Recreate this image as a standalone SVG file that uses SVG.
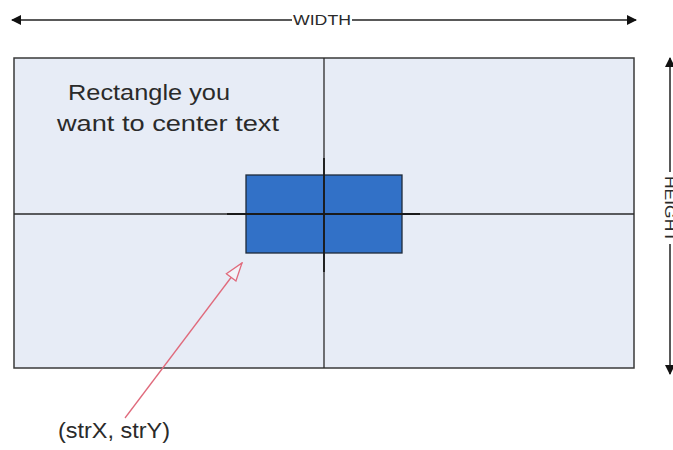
<svg xmlns="http://www.w3.org/2000/svg" width="673" height="450" viewBox="0 0 673 450">
  <style>
    .dim { stroke: #222; stroke-width: 1.5; fill: none; }
    .grid { stroke: #2a2a2a; stroke-width: 1.3; fill: none; }
    .lbl { font-family: "Liberation Sans", Arial, sans-serif; fill: #2a2a2a; }
  </style>
  <defs>
    <marker id="blk" viewBox="0 0 10 10" refX="9" refY="5" markerWidth="10" markerHeight="10" markerUnits="userSpaceOnUse" orient="auto-start-reverse">
      <path d="M0,0 L10,5 L0,10 Z" fill="#111"/>
    </marker>
    <marker id="open" viewBox="0 0 20 14" refX="19" refY="7" markerWidth="20" markerHeight="14" markerUnits="userSpaceOnUse" orient="auto">
      <path d="M1,1 L19,7 L1,13 Z" fill="#F2F3F8" stroke="#E06A7C" stroke-width="1.3"/>
    </marker>
  </defs>
  <rect width="673" height="450" fill="#ffffff"/>

  <g id="width-dimension">
    <line class="dim" x1="12" y1="20" x2="292" y2="20" marker-start="url(#blk)"/>
    <line class="dim" x1="352" y1="20" x2="636" y2="20" marker-end="url(#blk)"/>
    <text class="lbl" x="293" y="24.5" font-size="15" textLength="58" lengthAdjust="spacingAndGlyphs">WIDTH</text>
  </g>

  <g id="height-dimension">
    <line class="dim" x1="670" y1="58" x2="670" y2="172" marker-start="url(#blk)"/>
    <line class="dim" x1="670" y1="244" x2="670" y2="374" marker-end="url(#blk)"/>
    <text class="lbl" transform="translate(665,176) rotate(90)" x="0" y="0" font-size="15" textLength="66" lengthAdjust="spacingAndGlyphs">HEIGHT</text>
  </g>

  <g id="outer-rectangle">
    <rect x="14" y="58" width="620" height="310" fill="#E7ECF6" stroke="#3a3a3a" stroke-width="1.5"/>
    <text class="lbl" x="68" y="100" font-size="22" textLength="162" lengthAdjust="spacingAndGlyphs">Rectangle you</text>
    <text class="lbl" x="57" y="131" font-size="22" textLength="222" lengthAdjust="spacingAndGlyphs">want to center text</text>
  </g>

  <g id="inner-rectangle">
    <rect x="246" y="175" width="156" height="78" fill="#3271C7" stroke="#1e2a3a" stroke-width="1.3"/>
  </g>

  <g id="connectors">
    <line class="grid" x1="14" y1="214" x2="634" y2="214"/>
    <line class="grid" x1="324" y1="58" x2="324" y2="368"/>
    <line stroke="#1a1a1a" stroke-width="1.8" x1="227" y1="214" x2="420" y2="214"/>
    <line stroke="#1a1a1a" stroke-width="1.8" x1="324" y1="158" x2="324" y2="272"/>
    <line stroke="#E06A7C" stroke-width="1.3" x1="125" y1="418" x2="242" y2="263" marker-end="url(#open)"/>
  </g>

  <g id="point-label">
    <text class="lbl" x="58" y="438" font-size="22" textLength="112" lengthAdjust="spacingAndGlyphs">(strX, strY)</text>
  </g>
</svg>
